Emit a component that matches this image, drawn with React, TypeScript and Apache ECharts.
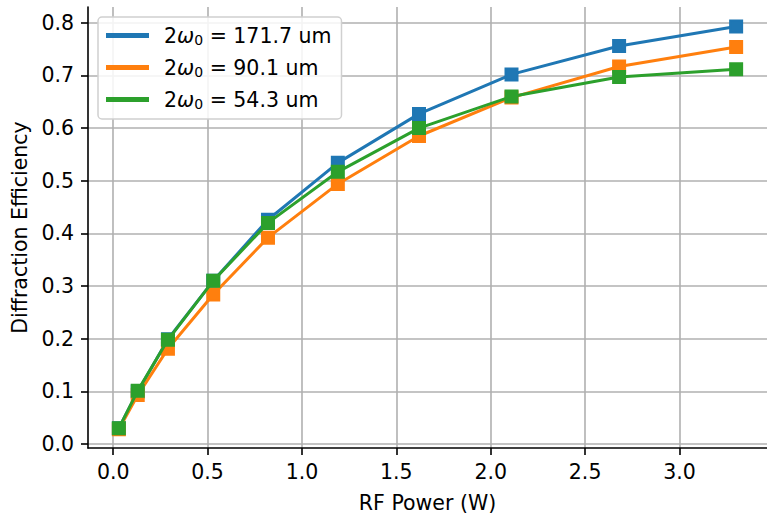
import React, { useEffect, useRef } from "react";
import * as echarts from "echarts";

const rfPower = [0.03, 0.13, 0.29, 0.53, 0.82, 1.19, 1.62, 2.11, 2.68, 3.3];
const eff1717 = [0.03, 0.1, 0.199, 0.31, 0.426, 0.534, 0.627, 0.702, 0.756, 0.793];
const eff901 = [0.028, 0.093, 0.181, 0.284, 0.392, 0.494, 0.585, 0.658, 0.717, 0.754];
const eff543 = [0.03, 0.101, 0.198, 0.31, 0.42, 0.517, 0.6, 0.66, 0.697, 0.712];
const seriesNames = ["2ω0 = 171.7 um", "2ω0 = 90.1 um", "2ω0 = 54.3 um"];
const legendRich = ["2{w|ω}{s|0} = 171.7 um", "2{w|ω}{s|0} = 90.1 um", "2{w|ω}{s|0} = 54.3 um"];
const colors = ["#1f77b4", "#ff7f0e", "#2ca02c"];
const xTicks = [0, 0.5, 1.0, 1.5, 2.0, 2.5, 3.0];
const yTicks = [0, 0.1, 0.2, 0.3, 0.4, 0.5, 0.6, 0.7, 0.8];

const FONT = "DejaVu Sans";
const FS = 20.5;

export default function App() {
  const ref = useRef<HTMLDivElement>(null);
  useEffect(() => {
    if (!ref.current) return;
    const chart = echarts.init(ref.current, null, { renderer: "svg" });
    const datasets = [eff1717, eff901, eff543];
    chart.setOption({
      animation: false,
      backgroundColor: "#ffffff",
      grid: { left: 88, top: 7, width: 690, height: 447, containLabel: false },
      legend: {
        orient: "vertical",
        left: 98,
        top: 17,
        padding: [7, 10, 8, 8],
        backgroundColor: "rgba(255,255,255,0.85)",
        borderColor: "#d0d0d0",
        borderWidth: 1.5,
        borderRadius: 4,
        itemWidth: 41,
        itemHeight: 3,
        itemGap: 9,
        icon: "rect",
        data: seriesNames,
        formatter: (name: string) => legendRich[seriesNames.indexOf(name)],
        textStyle: {
          fontFamily: FONT,
          fontSize: FS,
          color: "#000",
          padding: [0, 0, 0, 11],
          lineHeight: 22,
          rich: {
            w: { fontFamily: FONT, fontSize: FS, fontStyle: "italic", color: "#000", lineHeight: 22 },
            s: { fontFamily: FONT, fontSize: 14, color: "#000", padding: [9, 0, 0, 0], lineHeight: 22 },
          },
        },
      },
      xAxis: {
        type: "value",
        min: -0.1335,
        max: 3.4635,
        name: "RF Power (W)",
        nameLocation: "middle",
        nameGap: 44,
        nameTextStyle: { fontFamily: FONT, fontSize: FS, color: "#000" },
        axisLine: { show: true, onZero: false, lineStyle: { color: "#000", width: 1.6 } },
        axisTick: { show: true, length: 7, customValues: xTicks, lineStyle: { color: "#000", width: 1.6 } },
        axisLabel: {
          customValues: xTicks,
          formatter: (v: number) => v.toFixed(1),
          fontFamily: FONT,
          fontSize: FS,
          color: "#000",
          margin: 13,
        },
        splitLine: { show: true, lineStyle: { color: "#b0b0b0", width: 1.6 } },
      },
      yAxis: {
        type: "value",
        min: -0.0075,
        max: 0.83,
        name: "Diffraction Efficiency",
        nameLocation: "middle",
        nameGap: 55,
        nameTextStyle: { fontFamily: FONT, fontSize: FS, color: "#000" },
        axisLine: { show: true, onZero: false, lineStyle: { color: "#000", width: 1.6 } },
        axisTick: { show: true, length: 7, customValues: yTicks, lineStyle: { color: "#000", width: 1.6 } },
        axisLabel: {
          customValues: yTicks,
          formatter: (v: number) => v.toFixed(1),
          fontFamily: FONT,
          fontSize: FS,
          color: "#000",
          margin: 14,
        },
        splitLine: { show: true, lineStyle: { color: "#b0b0b0", width: 1.6 } },
      },
      series: datasets.map((d, i) => ({
        type: "line",
        name: seriesNames[i],
        data: rfPower.map((x, j) => [x, d[j]]),
        color: colors[i],
        symbol: "rect",
        symbolSize: 12,
        showAllSymbol: true,
        lineStyle: { width: 3, color: colors[i] },
        itemStyle: { color: colors[i], borderColor: colors[i], borderWidth: 2 },
        z: 2 + i,
      })),
    });
    return () => chart.dispose();
  }, []);
  return <div ref={ref} style={{ width: 767, height: 518, position: "absolute", left: 0, top: 0 }} />;
}
